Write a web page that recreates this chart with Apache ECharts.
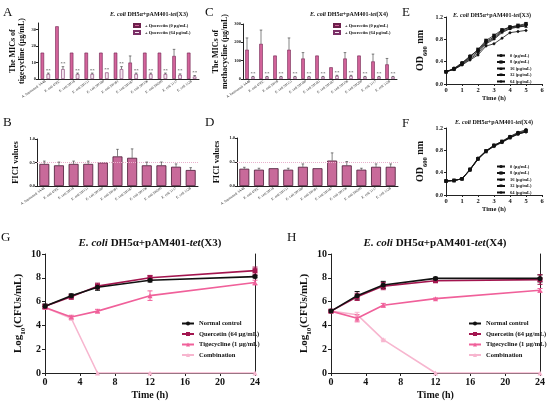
<!DOCTYPE html>
<html>
<head>
<meta charset="utf-8">
<script src="https://cdn.jsdelivr.net/npm/echarts@6/dist/echarts.min.js"></script>
<style>
  html, body { margin: 0; padding: 0; background: #fff; }
  #chart { width: 550px; height: 403px; }
</style>
</head>
<body>
<div id="chart"></div>
<script>
// strains shared by panels A-D
const strains = ["A. baumannii 3A48", "E. coli 47EC", "E. coli SH18", "E. coli SH151", "E. coli SH180",
  "E. coli SH181", "E. coli SH187", "E. coli SH196", "E. coli SH200", "E. coli 3117", "E. coli 3128"];
const micNames = ["+ Quercetin (0 μg/mL)", "+ Quercetin (64 μg/mL)"];

// A: tigecycline MICs, tet(X3)
const micTige0 = [16, 32, 16, 16, 16, 16, 10, 16, 16, 14, 16];
const micTige0Err = [0, 0, 0, 0, 0, 0, 4, 0, 0, 4, 0];
const micTige64 = [3, 6, 3, 3, 4, 6, 3, 3, 3, 2.5, 1.5];
const micTige64Err = [0.6, 1.5, 0.6, 0.6, 0, 1.5, 0.6, 0.6, 0.6, 0.6, 0.6];
// B: FICI, tet(X3)
const ficiX3 = [0.47, 0.44, 0.47, 0.47, 0.5, 0.63, 0.6, 0.44, 0.44, 0.41, 0.34];
const ficiX3Err = [0.06, 0.07, 0.06, 0.06, 0, 0.15, 0.19, 0.07, 0.07, 0.06, 0.05];
// C: methacycline MICs, tet(X4)
const micMeta0 = [160, 192, 128, 160, 112, 128, 64, 112, 128, 96, 80];
const micMeta0Err = [64, 75, 0, 64, 32, 0, 0, 32, 0, 40, 32];
const micMeta64 = [12, 12, 12, 12, 12, 12, 16, 16, 12, 12, 12];
const micMeta64Err = [2, 2, 2, 2, 2, 2, 4, 4, 2, 2, 2];
// D: FICI, tet(X4)
const ficiX4 = [0.36, 0.34, 0.37, 0.34, 0.4, 0.37, 0.53, 0.43, 0.34, 0.4, 0.4];
const ficiX4Err = [0.03, 0.03, 0, 0.03, 0.06, 0, 0.16, 0.08, 0.03, 0.06, 0.06];

// E/F: growth curves
const growthHours = [0, 0.5, 1, 1.5, 2, 2.5, 3, 3.5, 4, 4.5, 5];
const doseNames = ["0 (μg/mL)", "8 (μg/mL)", "16 (μg/mL)", "32 (μg/mL)", "64 (μg/mL)"];
const growthX3 = [
  [0.22, 0.28, 0.38, 0.50, 0.60, 0.76, 0.84, 0.96, 1.02, 1.04, 1.06],
  [0.22, 0.27, 0.37, 0.49, 0.62, 0.78, 0.87, 0.97, 1.02, 1.05, 1.08],
  [0.22, 0.27, 0.36, 0.47, 0.58, 0.74, 0.82, 0.94, 1.00, 1.03, 1.04],
  [0.22, 0.26, 0.35, 0.45, 0.55, 0.72, 0.80, 0.92, 0.99, 1.02, 1.04],
  [0.22, 0.26, 0.34, 0.43, 0.52, 0.68, 0.72, 0.82, 0.92, 0.94, 0.96]
];
const growthX4 = [
  [0.25, 0.26, 0.29, 0.46, 0.66, 0.79, 0.89, 0.96, 1.05, 1.12, 1.17],
  [0.25, 0.26, 0.29, 0.46, 0.65, 0.79, 0.89, 0.96, 1.04, 1.11, 1.15],
  [0.25, 0.26, 0.29, 0.45, 0.65, 0.78, 0.88, 0.95, 1.03, 1.10, 1.14],
  [0.25, 0.26, 0.29, 0.45, 0.64, 0.78, 0.88, 0.95, 1.03, 1.09, 1.13],
  [0.25, 0.26, 0.29, 0.45, 0.64, 0.78, 0.87, 0.94, 1.02, 1.09, 1.13]
];

// G/H: time-kill curves
const killHours = [0, 3, 6, 12, 24];
const killNames = ["Normal control", "Quercetin (64 μg/mL)", "Tigecycline (1 μg/mL)", "Combination"];
const killX3 = [
  [5.6, 6.5, 7.2, 7.8, 8.1],
  [5.6, 6.4, 7.3, 8.0, 8.6],
  [5.5, 4.7, 5.2, 6.5, 7.6],
  [5.5, 4.6, 0, 0, 0]
];
const killX3Err = [
  [0.2, 0.15, 0.25, 0.15, 0.1],
  [0.15, 0.2, 0.25, 0.2, 0.3],
  [0.1, 0.15, 0.15, 0.4, 0.2],
  [0, 0.1, 0, 0, 0]
];
const killX4 = [
  [5.2, 6.5, 7.4, 7.95, 7.95],
  [5.2, 6.4, 7.3, 7.75, 7.85],
  [5.2, 4.6, 5.7, 6.25, 6.95],
  [5.2, 4.9, 2.8, 0, 0]
];
const killX4Err = [
  [0.1, 0.35, 0.3, 0.1, 0.3],
  [0.1, 0.3, 0.3, 0.1, 0.4],
  [0.1, 0.3, 0.15, 0.05, 0.15],
  [0, 0.2, 0.05, 0, 0]
];

const FONT = "Liberation Serif";
const killColors = ["#111111", "#a3154f", "#f0609a", "#f7b6cf"];
const killSymbols = ["circle", "rect", "triangle", "triangle"];
const doseSymbols = ["circle", "rect", "triangle", "triangle", "diamond"];

function barErr(gi, means, errs, dx, mark) {
  return {
    type: "custom", xAxisIndex: gi, yAxisIndex: gi, z: 5, silent: true,
    data: means.map((m, i) => [i, m, errs[i]]),
    renderItem(params, api) {
      const base = api.coord([api.value(0), api.value(1)]);
      const top = api.coord([api.value(0), api.value(1) + api.value(2)]);
      const x = base[0] + dx;
      const kids = [];
      if (api.value(2) > 0) {
        kids.push({ type: "line", shape: { x1: x, y1: base[1], x2: x, y2: top[1] }, style: { stroke: "#333", lineWidth: 0.6 } });
        kids.push({ type: "line", shape: { x1: x - 1.3, y1: top[1], x2: x + 1.3, y2: top[1] }, style: { stroke: "#333", lineWidth: 0.6 } });
      }
      if (mark) {
        kids.push({ type: "text", style: { text: mark, x: x, y: top[1] - 0.3, fontSize: 5, fill: "#444",
          align: "center", verticalAlign: "bottom", fontFamily: FONT } });
      }
      return { type: "group", children: kids };
    }
  };
}

function lineErr(gi, means, errs, color) {
  return {
    type: "custom", xAxisIndex: gi, yAxisIndex: gi, z: 4, silent: true,
    data: means.map((m, i) => [killHours[i], m, errs[i]]),
    renderItem(params, api) {
      const e = api.value(2);
      if (!e) return { type: "group", children: [] };
      const hi = api.coord([api.value(0), api.value(1) + e]);
      const lo = api.coord([api.value(0), Math.max(0, api.value(1) - e)]);
      const x = hi[0];
      const st = { stroke: color, lineWidth: 1 };
      return { type: "group", children: [
        { type: "line", shape: { x1: x, y1: hi[1], x2: x, y2: lo[1] }, style: st },
        { type: "line", shape: { x1: x - 2.5, y1: hi[1], x2: x + 2.5, y2: hi[1] }, style: st },
        { type: "line", shape: { x1: x - 2.5, y1: lo[1], x2: x + 2.5, y2: lo[1] }, style: st }
      ] };
    }
  };
}

function headline(tag, left, top, size, align) {
  const rich = {
    i: { fontStyle: "italic", fontWeight: "bold", fontSize: size, fontFamily: FONT, color: "#111" },
    b: { fontWeight: "bold", fontSize: size, fontFamily: FONT, color: "#111" }
  };
  return {
    text: "{i|E. coli}{b| DH5α+pAM401-}{i|tet}{b|(" + tag + ")}",
    left: left, top: top, padding: 0, textAlign: align || "left",
    textStyle: { fontSize: size, fontFamily: FONT, rich: rich }
  };
}

function letter(t, left, top) {
  return { text: t, left: left, top: top, padding: 0,
    textStyle: { fontSize: 13, fontWeight: "normal", fontFamily: FONT, color: "#111" } };
}

const axisLine = { show: true, lineStyle: { color: "#222", width: 1 } };
const axisTick = { show: true, length: 2, lineStyle: { color: "#222" } };

function catAxis(gi) {
  return { type: "category", gridIndex: gi, data: strains, axisLine: axisLine,
    axisTick: { show: false },
    axisLabel: { interval: 0, rotate: 35, fontSize: 3.6, margin: 2, color: "#222", fontFamily: FONT } };
}

function valAxis(gi, opt) {
  return Object.assign({ type: "value", gridIndex: gi, splitLine: { show: false }, axisLine: axisLine, axisTick: axisTick,
    nameLocation: "middle", nameRotate: 90 }, opt);
}

const smallLabel = (fmt) => ({ fontSize: 4.5, margin: 2, color: "#222", fontFamily: FONT, fontWeight: "bold", formatter: fmt });
const nameStyle = (size) => ({ fontSize: size, fontWeight: "bold", fontFamily: FONT, color: "#111", lineHeight: size + 1,
  rich: { sub: { fontSize: size * 0.65, fontWeight: "bold", fontFamily: FONT, verticalAlign: "bottom", padding: [0, 0, -size * 0.3, 0] } } });

const micStyle = [
  { color: "#d4649c", borderColor: "#6b1f4b", borderWidth: 0.6 },
  { color: "#f5e6f0", borderColor: "#7a2f66", borderWidth: 0.6 }
];
const ficiStyle = { color: "#c86a9a", borderColor: "#4a1a36", borderWidth: 0.8 };
const halfLine = { silent: true, symbol: "none", label: { show: false },
  lineStyle: { color: "#eab0cc", type: "dotted", width: 1 }, data: [{ yAxis: 0.5 }] };

const grids = [
  { left: 38, top: 23, width: 161, height: 56 },
  { left: 37, top: 139, width: 161, height: 47 },
  { left: 243, top: 24, width: 154, height: 55 },
  { left: 237, top: 138, width: 161, height: 48 },
  { left: 446, top: 17, width: 96, height: 67 },
  { left: 446, top: 128, width: 96, height: 67 },
  { left: 45, top: 254, width: 210, height: 119 },
  { left: 331, top: 254, width: 209, height: 119 }
];

const xAxes = [
  catAxis(0), catAxis(1), catAxis(2), catAxis(3),
  { type: "value", gridIndex: 4, min: 0, max: 6, interval: 1, splitLine: { show: false }, axisLine: axisLine, axisTick: axisTick,
    axisLabel: { fontSize: 6.5, margin: 3, color: "#111", fontWeight: "bold", fontFamily: FONT },
    name: "Time (h)", nameLocation: "middle", nameGap: 11, nameTextStyle: { fontSize: 6.5, fontWeight: "bold", fontFamily: FONT, color: "#111" } },
  { type: "value", gridIndex: 5, min: 0, max: 6, interval: 1, splitLine: { show: false }, axisLine: axisLine, axisTick: axisTick,
    axisLabel: { fontSize: 6.5, margin: 3, color: "#111", fontWeight: "bold", fontFamily: FONT },
    name: "Time (h)", nameLocation: "middle", nameGap: 11, nameTextStyle: { fontSize: 6.5, fontWeight: "bold", fontFamily: FONT, color: "#111" } },
  { type: "value", gridIndex: 6, min: 0, max: 24, interval: 4, splitLine: { show: false }, axisLine: axisLine,
    axisTick: { show: true, length: 3, lineStyle: { color: "#222" } },
    axisLabel: { fontSize: 10, margin: 4, color: "#111", fontWeight: "bold", fontFamily: FONT },
    name: "Time (h)", nameLocation: "middle", nameGap: 17, nameTextStyle: { fontSize: 10, fontWeight: "bold", fontFamily: FONT, color: "#111" } },
  { type: "value", gridIndex: 7, min: 0, max: 24, interval: 4, splitLine: { show: false }, axisLine: axisLine,
    axisTick: { show: true, length: 3, lineStyle: { color: "#222" } },
    axisLabel: { fontSize: 10, margin: 4, color: "#111", fontWeight: "bold", fontFamily: FONT },
    name: "Time (h)", nameLocation: "middle", nameGap: 17, nameTextStyle: { fontSize: 10, fontWeight: "bold", fontFamily: FONT, color: "#111" } }
];

const yAxes = [
  valAxis(0, { min: 0, max: 34, interval: 10,
    axisTick: Object.assign({ customValues: [0, 10, 20, 30] }, axisTick),
    axisLabel: Object.assign({ customValues: [0, 10, 20, 30] }, smallLabel()),
    name: "The MICs of\ntigecycline (μg/mL)", nameGap: 12, nameTextStyle: nameStyle(8) }),
  valAxis(1, { min: 0, max: 1, interval: 0.5, axisLabel: smallLabel(v => v.toFixed(1)),
    name: "FICI values", nameGap: 16, nameTextStyle: nameStyle(8.5) }),
  valAxis(2, { min: 0, max: 300, interval: 100, axisLabel: smallLabel(),
    name: "The MICs of\nmethacycline (μg/mL)", nameGap: 14, nameTextStyle: nameStyle(8) }),
  valAxis(3, { min: 0, max: 1, interval: 0.5, axisLabel: smallLabel(v => v.toFixed(1)),
    name: "FICI values", nameGap: 15, nameTextStyle: nameStyle(8.5) }),
  valAxis(4, { min: 0, max: 1.2, interval: 0.4,
    axisLabel: { fontSize: 6, margin: 3, color: "#111", fontWeight: "bold", fontFamily: FONT, formatter: v => v.toFixed(1) },
    name: "OD{sub|600} nm", nameGap: 20, nameTextStyle: nameStyle(10) }),
  valAxis(5, { min: 0, max: 1.2, interval: 0.4,
    axisLabel: { fontSize: 6, margin: 3, color: "#111", fontWeight: "bold", fontFamily: FONT, formatter: v => v.toFixed(1) },
    name: "OD{sub|600} nm", nameGap: 20, nameTextStyle: nameStyle(10) }),
  valAxis(6, { min: 0, max: 10, interval: 2,
    axisTick: { show: true, length: 3, lineStyle: { color: "#222" } },
    axisLabel: { fontSize: 10, margin: 4, color: "#111", fontWeight: "bold", fontFamily: FONT },
    name: "Log{sub|10}(CFUs/mL)", nameGap: 16, nameTextStyle: nameStyle(11) }),
  valAxis(7, { min: 0, max: 10, interval: 2,
    axisTick: { show: true, length: 3, lineStyle: { color: "#222" } },
    axisLabel: { fontSize: 10, margin: 4, color: "#111", fontWeight: "bold", fontFamily: FONT },
    name: "Log{sub|10}(CFUs/mL)", nameGap: 16, nameTextStyle: nameStyle(11) }),
  // right frame lines for G and H
  { type: "value", gridIndex: 6, position: "right", min: 0, max: 10, axisLine: axisLine,
    axisTick: { show: false }, axisLabel: { show: false }, splitLine: { show: false } },
  { type: "value", gridIndex: 7, position: "right", min: 0, max: 10, axisLine: axisLine,
    axisTick: { show: false }, axisLabel: { show: false }, splitLine: { show: false } }
];

const series = [];

// A and C grouped bars
[[0, micTige0, micTige0Err, micTige64, micTige64Err], [2, micMeta0, micMeta0Err, micMeta64, micMeta64Err]].forEach(p => {
  const gi = p[0];
  series.push({ name: micNames[0], type: "bar", xAxisIndex: gi, yAxisIndex: gi, data: p[1],
    barWidth: 3.5, barGap: "70%", itemStyle: micStyle[0] });
  series.push({ name: micNames[1], type: "bar", xAxisIndex: gi, yAxisIndex: gi, data: p[3],
    barWidth: 3.5, barGap: "70%", itemStyle: micStyle[1] });
  series.push(barErr(gi, p[1], p[2], -3, null));
  series.push(barErr(gi, p[3], p[4], 3, "**"));
});

// B and D FICI bars
[[1, ficiX3, ficiX3Err], [3, ficiX4, ficiX4Err]].forEach(p => {
  series.push({ name: "FICI", type: "bar", xAxisIndex: p[0], yAxisIndex: p[0], data: p[1],
    barWidth: "68%", itemStyle: ficiStyle, markLine: halfLine });
  series.push(barErr(p[0], p[1], p[2], 0, null));
});

// E and F growth curves
[[4, growthX3], [5, growthX4]].forEach(p => {
  p[1].forEach((vals, k) => {
    series.push({ name: doseNames[k], type: "line", xAxisIndex: p[0], yAxisIndex: p[0],
      data: vals.map((v, i) => [growthHours[i], v]),
      symbol: doseSymbols[k], symbolSize: 3.5, symbolRotate: k === 3 ? 180 : 0,
      lineStyle: { color: "#111", width: 0.8 }, itemStyle: { color: "#111" } });
  });
});

// G and H time-kill curves
[[6, killX3, killX3Err], [7, killX4, killX4Err]].forEach(p => {
  p[1].forEach((vals, k) => {
    series.push({ name: killNames[k], type: "line", xAxisIndex: p[0], yAxisIndex: p[0],
      data: vals.map((v, i) => [killHours[i], v]), z: 3 + (3 - k),
      symbol: killSymbols[k], symbolSize: 5,
      lineStyle: { color: killColors[k], width: 1.6 }, itemStyle: { color: killColors[k] } });
    series.push(lineErr(p[0], vals, p[2][k], killColors[k]));
  });
});

const legendText = (size) => ({ fontSize: size, fontFamily: FONT, fontWeight: "bold", color: "#111" });

const option = {
  animation: false,
  textStyle: { fontFamily: FONT },
  title: [
    letter("A", 3, 6), letter("B", 3, 116), letter("C", 205, 6), letter("D", 205, 116),
    letter("E", 402, 6), letter("F", 402, 117), letter("G", 1, 231), letter("H", 287, 231),
    headline("X3", 110, 11, 6), headline("X4", 310, 11, 6),
    headline("X3", 453, 12, 6), headline("X4", 455, 119, 6),
    headline("X3", 150, 238, 11, "center"), headline("X4", 435, 238, 11, "center")
  ],
  legend: [
    { data: micNames, left: 133, top: 23, orient: "vertical", icon: "rect", itemWidth: 6, itemHeight: 3, itemGap: 2,
      padding: 0, textStyle: legendText(4.5) },
    { data: micNames, left: 333, top: 23, orient: "vertical", icon: "rect", itemWidth: 6, itemHeight: 3, itemGap: 2,
      padding: 0, textStyle: legendText(4.5) },
    { data: doseNames, left: 496, top: 53, orient: "vertical", itemWidth: 8, itemHeight: 4, itemGap: 1.5,
      padding: 0, textStyle: legendText(4.5) },
    { data: doseNames, left: 496, top: 164, orient: "vertical", itemWidth: 8, itemHeight: 4, itemGap: 1.5,
      padding: 0, textStyle: legendText(4.5) },
    { data: killNames, left: 181, top: 320, orient: "vertical", itemWidth: 12, itemHeight: 5, itemGap: 3.5,
      padding: 0, textStyle: legendText(6.5) },
    { data: killNames, left: 468, top: 320, orient: "vertical", itemWidth: 12, itemHeight: 5, itemGap: 3.5,
      padding: 0, textStyle: legendText(6.5) }
  ],
  grid: grids,
  xAxis: xAxes,
  yAxis: yAxes,
  series: series
};

const chart = echarts.init(document.getElementById("chart"));
chart.setOption(option);
</script>
</body>
</html>
